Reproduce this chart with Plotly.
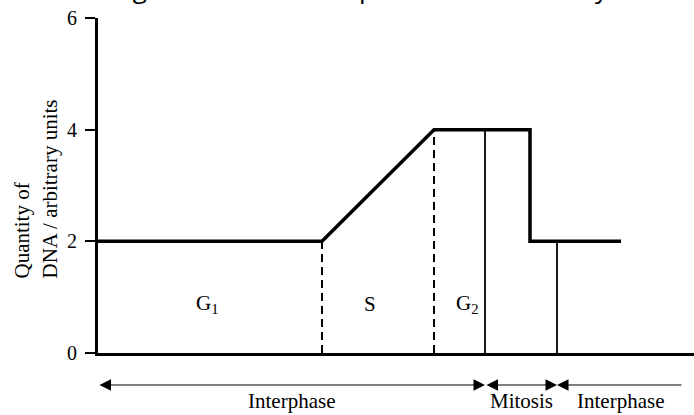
import numpy as np
import plotly.graph_objects as go

# ---- data (x in arbitrary time units, y = DNA quantity) ----
dna_x = [0, 22.4, 33.6, 43.2, 43.2, 52.3]
dna_y = [2, 2, 4, 4, 2, 2]

dashed_bounds = [22.4, 33.6]          # G1|S and S|G2
solid_bounds = [38.7, 45.9]           # G2|mitosis and mitosis|interphase

phase_labels = ["G<sub>1</sub>", "S", "G<sub>2</sub>"]
phase_label_x = [10.9, 27.2, 36.9]
phase_label_y = 0.87

stage_names = ["Interphase", "Mitosis", "Interphase"]
stage_edges = [0, 38.7, 45.9, 58.5]

y_ticks = [0, 2, 4, 6]
x_max = 59.6
y_max = 6

title_text = "Change in DNA content per cell over a cell cycle"
y_title = "Quantity of<br>DNA / arbitrary units"

SERIF = "Liberation Serif, Times New Roman, serif"

fig = go.Figure()

# main DNA curve
fig.add_trace(go.Scatter(x=dna_x, y=dna_y, mode="lines",
                         line=dict(color="black", width=3.5),
                         hoverinfo="skip", showlegend=False))

# phase boundary lines, up to the curve
for xb in dashed_bounds:
    h = float(np.interp(xb, dna_x[:4], dna_y[:4]))
    fig.add_trace(go.Scatter(x=[xb, xb], y=[0, h], mode="lines",
                             line=dict(color="black", width=2, dash="8px,5px"),
                             hoverinfo="skip", showlegend=False))
for xb in solid_bounds:
    if xb < dna_x[3]:
        h = float(np.interp(xb, dna_x[:4], dna_y[:4]))
    else:
        h = float(np.interp(xb, dna_x[4:], dna_y[4:]))
    fig.add_trace(go.Scatter(x=[xb, xb], y=[0, h], mode="lines",
                             line=dict(color="black", width=1.8),
                             hoverinfo="skip", showlegend=False))

annotations = []
for lab, lx in zip(phase_labels, phase_label_x):
    annotations.append(dict(x=lx, y=phase_label_y, xref="x", yref="y", text=lab,
                            showarrow=False, font=dict(family=SERIF, size=21, color="black")))

# stage arrows under the axis
arrow_y = -0.0955
label_y = -0.143
for i, name in enumerate(stage_names):
    x0, x1 = stage_edges[i], stage_edges[i + 1]
    last = i == len(stage_names) - 1
    annotations.append(dict(
        x=x0 if last else x1, y=arrow_y, xref="x", yref="paper",
        ax=x1 if last else x0, ay=0, axref="x", ayref="pixel",
        text="", showarrow=True,
        arrowhead=2, arrowsize=2.3, arrowwidth=1, arrowcolor="black",
        arrowside="end" if last else "end+start",
        startarrowhead=2, startarrowsize=2.3,
        standoff=0, startstandoff=0))
    annotations.append(dict(x=(x0 + x1) / 2, y=label_y, xref="x", yref="paper",
                            text=name, showarrow=False, yanchor="middle",
                            font=dict(family=SERIF, size=21, color="black")))

# y-axis title (left aligned, rotated)
annotations.append(dict(x=-0.104, y=0.488, xref="paper", yref="paper", text=y_title,
                        textangle=-90, align="left", showarrow=False,
                        xanchor="center", yanchor="middle",
                        font=dict(family=SERIF, size=21, color="black")))

# title, mostly cut off by the top edge of the page
annotations.append(dict(x=0.4337, y=1.0299, xref="paper", yref="paper", text=title_text,
                        showarrow=False, xanchor="center", yanchor="bottom",
                        font=dict(family="Open Sans, sans-serif", size=26, color="black")))

fig.update_layout(
    width=694, height=415,
    margin=dict(l=98, r=0, t=18, b=62),
    paper_bgcolor="white", plot_bgcolor="white",
    showlegend=False,
    annotations=annotations,
    xaxis=dict(range=[0, x_max], showgrid=False, zeroline=False, showline=True,
               linecolor="black", linewidth=3, showticklabels=False, ticks=""),
    yaxis=dict(range=[0, y_max], showgrid=False, zeroline=False, showline=True,
               linecolor="black", linewidth=3, tickvals=y_ticks, ticks="outside",
               ticklen=10, tickwidth=2, tickcolor="black", ticklabelstandoff=4,
               tickfont=dict(family=SERIF, size=20, color="black")),
)

fig.write_html("out.html", config={"displayModeBar": False},
               post_script="document.body.style.margin='0px';")
